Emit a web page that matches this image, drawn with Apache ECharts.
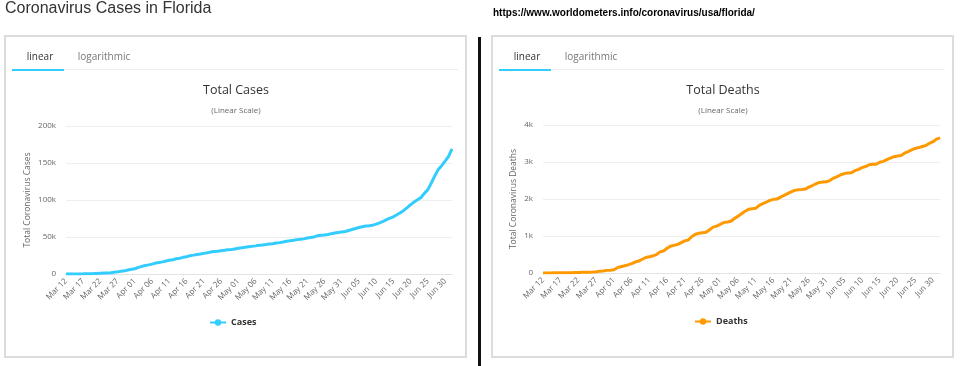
<!DOCTYPE html>
<html>
<head>
<meta charset="utf-8">
<script src="https://cdn.jsdelivr.net/npm/echarts@6/dist/echarts.min.js"></script>
<style>
html,body{margin:0;padding:0;background:#fff;}
#chart{width:960px;height:366px;}
</style>
</head>
<body>
<div id="chart"></div>
<script>
// ---- DATA ----
const startDate = '2020-03-12';
const dayCount = 113; // Mar 12 .. Jul 02
const cases = [
  45, 70, 77, 115, 155, 216, 314, 390, 563, 763, 1007, 1227, 1412, 1682, 2355, 2900, 3763, 4246, 5473, 6338,
  6955, 9008, 10268, 11545, 12350, 13324, 14747, 15455, 16364, 17531, 18494, 19355, 20601, 21367, 22511, 23340, 24759, 25492, 26314, 27058,
  27869, 28576, 29648, 30533, 30839, 31528, 32138, 32846, 33193, 33690,
  34728, 35463, 36078, 36897, 37439, 38002, 38828, 39199, 39890, 40596, 40982, 41923, 42402, 43210, 44138, 44811, 45588, 46442, 46944, 47471,
  48675, 49451, 50127, 51746, 52255, 52634, 53285, 54497, 55424, 56163, 56830,
  57447, 58764, 60183, 61488, 62758, 63938, 64904, 65253, 66000, 67371, 69069, 70971, 73552, 75568, 77326, 80109, 82719, 85926, 89748, 93797,
  97291, 100217, 103503, 109014, 114018, 122960, 132545, 141075, 146341, 152434,
  158997, 169106
];
const deaths = [
  2, 3, 3, 4, 5, 6, 7, 8, 10, 12, 13, 18, 19, 23, 29, 36, 46, 56, 71, 77,
  87, 144, 170, 195, 221, 254, 296, 323, 371, 419, 438, 461, 496, 571, 596, 668, 726, 748, 774, 822,
  867, 893, 987, 1046, 1074, 1088, 1101, 1171, 1240, 1268,
  1314, 1364, 1379, 1399, 1471, 1536, 1600, 1669, 1721, 1735, 1747, 1827, 1875, 1917, 1964, 1990, 1997, 2052, 2096, 2144,
  2190, 2233, 2252, 2259, 2268, 2319, 2364, 2412, 2447, 2460, 2465,
  2506, 2566, 2607, 2655, 2688, 2700, 2712, 2765, 2801, 2848, 2877, 2925, 2938, 2938, 2993, 3018, 3061, 3104, 3144, 3161,
  3173, 3238, 3281, 3327, 3366, 3390, 3419, 3447, 3505, 3550,
  3617, 3650
];
const casesTicks = [0, 50000, 100000, 150000, 200000];
const deathsTicks = [0, 1000, 2000, 3000, 4000];

// categories: one label per day
const monthNames = ['Jan','Feb','Mar','Apr','May','Jun','Jul','Aug','Sep','Oct','Nov','Dec'];
const categories = [];
(function(){
  const d = new Date(startDate + 'T12:00:00Z');
  for (let i = 0; i < dayCount; i++) {
    const dd = String(d.getUTCDate()).padStart(2, '0');
    categories.push(monthNames[d.getUTCMonth()] + ' ' + dd);
    d.setUTCDate(d.getUTCDate() + 1);
  }
})();

// ---- CHART ----
const FONT = '"Open Sans", "DejaVu Sans", sans-serif';
const kFmt = v => v === 0 ? '0' : (v / 1000) + 'k';

function xAxisFor(gridIndex) {
  return {
    type: 'category', gridIndex, data: categories, boundaryGap: false,
    axisLine: { lineStyle: { color: '#e3e3e3', width: 1 } },
    axisTick: { show: false },
    axisLabel: { interval: 4, rotate: 45, fontSize: 8, color: '#666', fontFamily: FONT, margin: 6 },
    splitLine: { show: false }
  };
}
function yAxisFor(gridIndex, ticks, name, gap) {
  return {
    type: 'value', gridIndex, min: ticks[0], max: ticks[ticks.length - 1],
    interval: ticks[1] - ticks[0],
    name, nameLocation: 'middle', nameGap: gap,
    nameTextStyle: { fontSize: 8.5, color: '#666', fontFamily: FONT },
    axisLine: { show: false }, axisTick: { show: false },
    axisLabel: { formatter: kFmt, fontSize: 8, color: '#666', fontFamily: FONT, margin: 10 },
    splitLine: { lineStyle: { color: '#eeeeee', width: 1 } }
  };
}

const chart = echarts.init(document.getElementById('chart'), null, { renderer: 'canvas' });

function panelGraphics(x0, w, tabX, cx, title) {
  return [
    { type: 'rect', shape: { x: x0, y: 36, width: w, height: 321 }, style: { fill: '#fff', stroke: '#dcdcdc', lineWidth: 2 }, z: -10 },
    { type: 'line', shape: { x1: tabX + 52, y1: 69.5, x2: x0 + w - 8, y2: 69.5 }, style: { stroke: '#eeeeee', lineWidth: 1 } },
    { type: 'rect', shape: { x: tabX, y: 69, width: 52, height: 2 }, style: { fill: '#33ccff' } },
    { type: 'text', x: tabX + 28, y: 57, style: { text: 'linear', fontSize: 10, fill: '#333', fontFamily: FONT, align: 'center', verticalAlign: 'middle' } },
    { type: 'text', x: tabX + 92, y: 57, style: { text: 'logarithmic', fontSize: 10, fill: '#777', fontFamily: FONT, align: 'center', verticalAlign: 'middle' } },
    { type: 'text', x: cx, y: 90, style: { text: title, fontSize: 12.5, fill: '#333', fontFamily: FONT, align: 'center', verticalAlign: 'middle' } },
    { type: 'text', x: cx, y: 111, style: { text: '(Linear Scale)', fontSize: 8, fill: '#666', fontFamily: FONT, align: 'center', verticalAlign: 'middle' } }
  ];
}

const option = {
  backgroundColor: '#fff',
  animation: false,
  grid: [
    { left: 66, right: 508, top: 126, bottom: 92 },
    { left: 543, right: 20, top: 125, bottom: 93 }
  ],
  xAxis: [xAxisFor(0), xAxisFor(1)],
  yAxis: [
    yAxisFor(0, casesTicks, 'Total Coronavirus Cases', 34),
    yAxisFor(1, deathsTicks, 'Total Coronavirus Deaths', 25)
  ],
  legend: [
    { data: ['Cases'], left: 204, top: 313, itemWidth: 16, itemHeight: 8, itemGap: 4,
      textStyle: { fontSize: 9, fontWeight: 'bold', color: '#333', fontFamily: FONT } },
    { data: ['Deaths'], left: 689, top: 312, itemWidth: 16, itemHeight: 8, itemGap: 4,
      textStyle: { fontSize: 9, fontWeight: 'bold', color: '#333', fontFamily: FONT } }
  ],
  series: [
    { name: 'Cases', type: 'line', xAxisIndex: 0, yAxisIndex: 0, data: cases,
      showSymbol: false, symbol: 'circle', symbolSize: 6,
      lineStyle: { color: '#33ccff', width: 3 }, itemStyle: { color: '#33ccff' } },
    { name: 'Deaths', type: 'line', xAxisIndex: 1, yAxisIndex: 1, data: deaths,
      showSymbol: false, symbol: 'circle', symbolSize: 6,
      lineStyle: { color: '#ff9900', width: 3 }, itemStyle: { color: '#ff9900' } }
  ],
  graphic: [].concat(
    panelGraphics(5, 461, 12, 236, 'Total Cases'),
    panelGraphics(492, 461, 499, 723, 'Total Deaths'),
    [
      { type: 'rect', shape: { x: 478, y: 37, width: 3, height: 329 }, style: { fill: '#111' } },
      { type: 'text', x: 5, y: 9, style: { text: 'Coronavirus Cases in Florida', fontSize: 16, fill: '#333', fontFamily: 'Arial, "Liberation Sans", sans-serif', verticalAlign: 'middle' } },
      { type: 'text', x: 493, y: 13, style: { text: 'https://www.worldometers.info/coronavirus/usa/florida/', fontSize: 10, fontWeight: 'bold', fill: '#000', fontFamily: 'Arial, "Liberation Sans", sans-serif', verticalAlign: 'middle' } }
    ]
  )
};
chart.setOption(option);
</script>
</body>
</html>
